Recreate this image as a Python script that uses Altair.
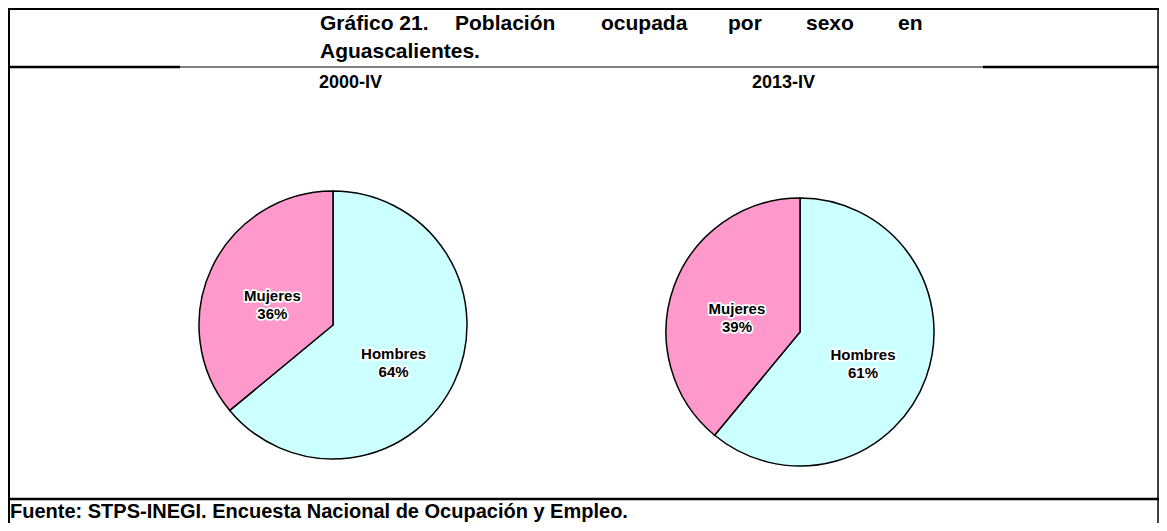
import altair as alt
import pandas as pd

# ---- data ----
periodos = ["2000-IV", "2013-IV"]
sexos = ["Hombres", "Mujeres"]
hombres_pct = [64, 61]
mujeres_pct = [36, 39]
colores = ["#CCFFFF", "#FF99CC"]

titulo_l1 = ["Gráfico 21.", "Población", "ocupada", "por", "sexo", "en"]
titulo_l2 = "Aguascalientes."
fuente = "Fuente: STPS-INEGI. Encuesta Nacional de Ocupación y Empleo."

rows = []
for i, p in enumerate(periodos):
    for j, (s, v) in enumerate(zip(sexos, [hombres_pct[i], mujeres_pct[i]])):
        rows.append({"periodo": p, "sexo": s, "pct": v, "orden": j,
                     "etiqueta": f"{s}\n{v}%"})
df = pd.DataFrame(rows)

FONT = "Liberation Sans"
one = alt.Data(values=[{"k": 0}])

def rule(x, x2, y, y2, w):
    enc = dict(x=alt.value(x), y=alt.value(y))
    if x2 is not None:
        enc["x2"] = alt.value(x2)
    if y2 is not None:
        enc["y2"] = alt.value(y2)
    return alt.Chart(one).mark_rule(color="black", strokeWidth=w).encode(**enc)

def text(t, x, y, size, align="left"):
    return alt.Chart(one).mark_text(
        font=FONT, fontWeight="bold", fontSize=size, align=align,
        baseline="alphabetic", color="black"
    ).encode(x=alt.value(x), y=alt.value(y), text=alt.value(t))

layers = []
# frame lines
layers += [
    rule(0, 1151, 1, None, 2),
    rule(1, None, 0, 515, 2),
    rule(1150, None, 0, 515, 1.5),
    rule(0, 172, 59, None, 2.5),
    rule(172, 975, 59, None, 1.2),
    rule(975, 1151, 59, None, 2.5),
    rule(0, 1151, 491, None, 2.5),
]

# title
word_x = [312, 447, 593, 720, 798, 890]
for w, x in zip(titulo_l1, word_x):
    layers.append(text(w, x, 22, 21))
layers.append(text(titulo_l2, 312, 50, 21))

# period headings
layers.append(text(periodos[0], 311, 80, 18))
layers.append(text(periodos[1], 744, 80, 18))

# footer
layers.append(text(fuente, 2, 510, 20))

# pies
centers = [(325, 317), (792, 324)]
color_scale = alt.Scale(domain=sexos, range=colores)
for p, (cx, cy) in zip(periodos, centers):
    base = alt.Chart(df).transform_filter(alt.datum.periodo == p)
    arc = base.mark_arc(radius=134, stroke="black", strokeWidth=1.5).encode(
        theta=alt.Theta("pct:Q", stack=True),
        color=alt.Color("sexo:N", scale=color_scale, legend=None),
        order=alt.Order("orden:Q", sort="ascending"),
        x=alt.value(cx), y=alt.value(cy),
    )
    common = dict(radius=67, font=FONT, fontWeight="bold", fontSize=15,
                  lineBreak="\n", lineHeight=18, align="center",
                  baseline="middle")
    enc = dict(
        theta=alt.Theta("pct:Q", stack=True),
        order=alt.Order("orden:Q", sort="ascending"),
        text="etiqueta:N", x=alt.value(cx), y=alt.value(cy),
    )
    halo = base.mark_text(stroke="white", strokeWidth=3.5, strokeJoin="round",
                          color="white", **common).encode(**enc)
    lab = base.mark_text(color="black", **common).encode(**enc)
    layers += [arc, halo, lab]

chart = alt.layer(*layers).properties(
    width=1151, height=515,
    autosize=alt.AutoSizeParams(type="none"), padding=0,
).configure_view(stroke=None)

chart.save("out.html", embed_options={"renderer": "svg", "actions": False})
